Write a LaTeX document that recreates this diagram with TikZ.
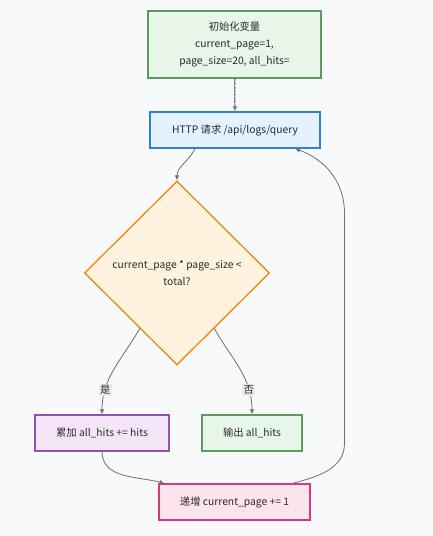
\documentclass[tikz,border=0pt]{standalone}
\usepackage{fontspec}
\setmainfont{Noto Sans CJK SC}
\usepackage{tikz}
\usetikzlibrary{shapes.geometric, arrows.meta, positioning, calc}

\definecolor{bgcol}{HTML}{F8F9FB}
\definecolor{txtcol}{HTML}{2A2A2A}
\definecolor{edgecol}{HTML}{707070}
\definecolor{greenfill}{HTML}{E8F5E9}
\definecolor{greenline}{HTML}{5B9B5B}
\definecolor{bluefill}{HTML}{E3F2FD}
\definecolor{blueline}{HTML}{2F80D8}
\definecolor{orangefill}{HTML}{FFF3E0}
\definecolor{orangeline}{HTML}{F57C00}
\definecolor{purplefill}{HTML}{F3E5F5}
\definecolor{purpleline}{HTML}{9650B0}
\definecolor{pinkfill}{HTML}{FCE4EC}
\definecolor{pinkline}{HTML}{D63A7A}

\begin{document}
\begin{tikzpicture}[
        x=1pt, y=-1pt,
        every node/.style={font=\fontsize{10.3}{17}\selectfont, text=txtcol},
        proc/.style={rectangle, draw, line width=1.2pt, align=center, minimum height=36pt, inner sep=2pt},
        decision/.style={diamond, draw=orangeline, fill=orangefill, line width=1.2pt, align=center, minimum width=185pt, minimum height=184pt, inner sep=0pt},
        arrow/.style={draw=edgecol, line width=0.8pt, -{Latex[length=5pt, width=4.5pt]}},
        tag/.style={fill=black!8, inner sep=1.5pt, font=\fontsize{10.3}{11}\selectfont}
    ]
    % Background
    \fill[bgcol] (0,0) rectangle (433,536);
    \useasboundingbox (0,0) rectangle (433,536);

    % Nodes
    \node[proc, draw=greenline, fill=greenfill, minimum width=173pt, minimum height=67pt] (init) at (234.5,44.5) {初始化变量\\current\_page=1,\\page\_size=20, all\_hits=};
    \node[proc, draw=blueline, fill=bluefill, minimum width=170pt] (req) at (235,130) {HTTP 请求 /api/logs/query};
    \node[decision] (check) at (177,273) {current\_page * page\_size <\\total?};
    \node[proc, draw=purpleline, fill=purplefill, minimum width=134pt] (accum) at (102,433) {累加 all\_hits += hits};
    \node[proc, draw=greenline, fill=greenfill, minimum width=100pt] (output) at (252,433) {输出 all\_hits};
    \node[proc, draw=pinkline, fill=pinkfill, minimum width=151pt] (incr) at (234.5,502) {递增 current\_page += 1};

    % Edges
    \draw[arrow, line width=1.2pt, dash pattern=on 3pt off 0.6pt] (init) -- (req);
    \draw[arrow] ([xshift=-40pt]req.south) to[out=-115, in=90] (check.north);
    \draw[arrow] ($(check.west)!0.6!(check.south)$) to[out=-120, in=90] node[tag, pos=0.75] {是} (accum.north);
    \draw[arrow] ($(check.east)!0.6!(check.south)$) to[out=-60, in=90] node[tag, pos=0.75] {否} (output.north);
    \draw[arrow] (accum.south) to[out=-90, in=165] ([xshift=-70pt]incr.north);
    \draw[arrow] ([xshift=58pt]incr.north) to[out=15, in=-90] ++(52,-40) -- ++(0,-230) to[out=90, in=-20] ([xshift=60pt]req.south);

\end{tikzpicture}
\end{document}
